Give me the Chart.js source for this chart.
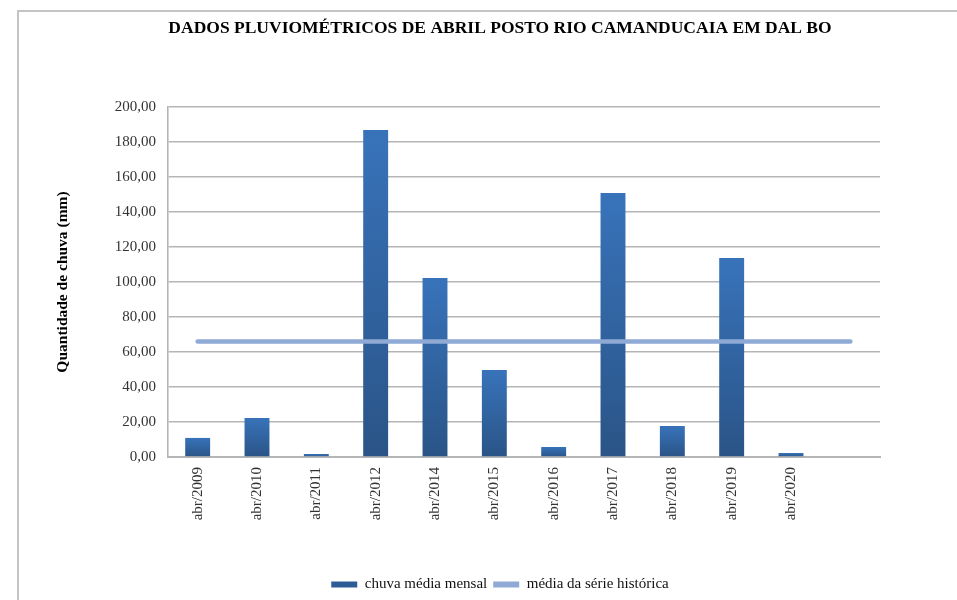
<!DOCTYPE html>
<html lang="pt-br">
<head>
    <meta charset="UTF-8">
    <title>Dados pluviométricos</title>
    <style>
        body { margin: 0; background: #fff; }
        .janela { position: relative; width: 957px; height: 600px; overflow: hidden; }
        .moldura {
            position: absolute; left: 17px; top: 10px; width: 1000px; height: 700px;
            border-top: 2px solid #c4c4c4; border-left: 2px solid #c4c4c4;
        }
        canvas { position: absolute; left: 0; top: 0; }
    </style>
</head>
<body>
    <div class="janela">
        <div class="moldura"></div>
        <canvas id="grafico" width="957" height="600"></canvas>
    </div>

<script src="https://cdn.jsdelivr.net/npm/chart.js"></script>
<script>
// meses de abril (2013 sem registro), última categoria vazia
const meses = ['abr/2009', 'abr/2010', 'abr/2011', 'abr/2012', 'abr/2014', 'abr/2015',
               'abr/2016', 'abr/2017', 'abr/2018', 'abr/2019', 'abr/2020', ''];
const chuvaMensal = [10.9, 22.3, 1.7, 186.9, 102.3, 49.7, 5.7, 150.9, 17.7, 113.7, 2.3, null];
const mediaHistorica = [66, 66, 66, 66, 66, 66, 66, 66, 66, 66, 66, 66];
const ticksY = [0, 20, 40, 60, 80, 100, 120, 140, 160, 180, 200];

const fonte = "'Liberation Serif', 'Times New Roman', serif";

// degradê de cada barra: mais claro no topo, mais escuro na base
function corBarra(ctx) {
    const chart = ctx.chart;
    const area = chart.chartArea;
    const v = ctx.raw;
    if (!area || v == null) return '#30619f';
    const y = chart.scales.y;
    const topo = y.getPixelForValue(v);
    const base = y.getPixelForValue(0);
    if (base - topo < 1) return '#2d5a92';
    const g = chart.ctx.createLinearGradient(0, topo, 0, base);
    g.addColorStop(0, '#3873ba');
    g.addColorStop(1, '#2a5487');
    return g;
}

const dados = {
    labels: meses,
    datasets: [{
        type: 'bar',
        label: 'chuva média mensal',
        data: chuvaMensal,
        backgroundColor: corBarra,
        barPercentage: 0.42,
        categoryPercentage: 1,
        order: 1
    }, {
        type: 'line',
        label: 'média da série histórica',
        data: mediaHistorica,
        borderColor: '#8eaad5',
        backgroundColor: '#8eaad5',
        borderWidth: 4.5,
        borderCapStyle: 'round',
        pointRadius: 0,
        tension: 0,
        order: 0
    }]
};

const config = {
    data: dados,
    options: {
        responsive: false,
        animation: false,
        layout: { padding: { left: 54, right: 11, top: 0, bottom: -2 } },
        plugins: {
            title: {
                display: true,
                text: 'DADOS PLUVIOMÉTRICOS DE ABRIL POSTO RIO CAMANDUCAIA EM DAL BO',
                color: '#000',
                font: { family: fonte, size: 17.5, weight: 'bold' },
                padding: { top: 18, bottom: 68 }
            },
            legend: {
                position: 'bottom',
                labels: {
                    color: '#111',
                    font: { family: fonte, size: 15 },
                    boxWidth: 26,
                    boxHeight: 6,
                    padding: 6,
                    sort: (a, b) => a.datasetIndex - b.datasetIndex,
                    generateLabels: function (chart) {
                        return chart.data.datasets.map(function (ds, i) {
                            const cor = i === 0 ? '#2e5c97' : '#8eaad5';
                            return {
                                text: ds.label,
                                fillStyle: cor,
                                strokeStyle: cor,
                                lineWidth: 0,
                                fontColor: '#111',
                                datasetIndex: i
                            };
                        });
                    }
                }
            },
            tooltip: { enabled: false }
        },
        scales: {
            x: {
                grid: { display: false },
                border: { display: true, color: '#b5b5b5', width: 2 },
                ticks: {
                    color: '#333',
                    font: { family: fonte, size: 15 },
                    minRotation: 90,
                    maxRotation: 90,
                    padding: 2
                },
                afterFit: function (scale) { scale.height = 114; }
            },
            y: {
                min: 0,
                max: 200,
                afterBuildTicks: function (scale) {
                    scale.ticks = ticksY.map(v => ({ value: v }));
                },
                grid: { color: '#b5b5b5', lineWidth: 1.6, drawTicks: false },
                border: { display: true, color: '#b5b5b5', width: 1.6 },
                ticks: {
                    color: '#333',
                    font: { family: fonte, size: 15 },
                    padding: 12,
                    callback: v => v.toFixed(2).replace('.', ',')
                },
                title: {
                    display: true,
                    text: 'Quantidade de chuva (mm)',
                    color: '#000',
                    font: { family: fonte, size: 15.5, weight: 'bold' },
                    padding: 0
                },
                afterFit: function (scale) { scale.width = 114; }
            },
            // margem vazia à direita da área do gráfico
            margem: {
                type: 'linear',
                position: 'right',
                grid: { display: false },
                border: { display: false },
                ticks: { display: false },
                afterFit: function (scale) { scale.width = 66; }
            }
        }
    }
};

new Chart(document.getElementById('grafico'), config);
</script>
</body>
</html>
